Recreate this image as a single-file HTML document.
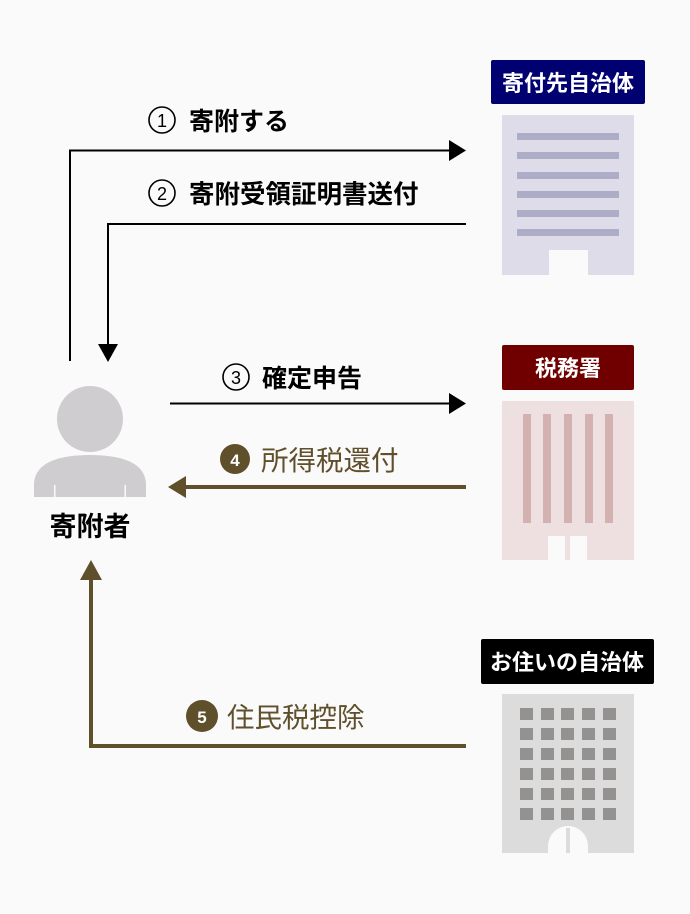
<!DOCTYPE html>
<html><head><meta charset="utf-8"><style>
html,body{margin:0;padding:0;background:#fafafa;}
svg{display:block;}
text{font-family:"Liberation Sans","Noto Sans CJK JP",sans-serif;font-weight:bold;}
</style></head><body>
<svg width="690" height="914" viewBox="0 0 690 914" xmlns="http://www.w3.org/2000/svg">
<rect width="690" height="914" fill="#fafafa"/>
<!-- arrow 1 -->
<polyline points="70,361 70,150.5 450,150.5" fill="none" stroke="#000" stroke-width="2"/>
<polygon points="449,140 466,150.5 449,161" fill="#000"/>
<circle cx="162" cy="120" r="13" fill="none" stroke="#000" stroke-width="1.6"/>
<text x="162" y="127" font-size="18" text-anchor="middle" style="font-weight:normal">1</text>
<text x="189" y="130" font-size="25">寄附する</text>
<!-- arrow 2 -->
<polyline points="466,224 108,224 108,346" fill="none" stroke="#000" stroke-width="2"/>
<polygon points="98,344 118,344 108,362" fill="#000"/>
<circle cx="162" cy="193" r="13" fill="none" stroke="#000" stroke-width="1.6"/>
<text x="162" y="200" font-size="18" text-anchor="middle" style="font-weight:normal">2</text>
<text x="189" y="203" font-size="25.5">寄附受領証明書送付</text>
<!-- arrow 3 -->
<line x1="170" y1="403.5" x2="450" y2="403.5" stroke="#000" stroke-width="2"/>
<polygon points="449,393 466,403.5 449,414" fill="#000"/>
<circle cx="236" cy="377" r="13" fill="none" stroke="#000" stroke-width="1.6"/>
<text x="236" y="384" font-size="18" text-anchor="middle" style="font-weight:normal">3</text>
<text x="262" y="387" font-size="25">確定申告</text>
<!-- arrow 4 -->
<line x1="466" y1="487" x2="185" y2="487" stroke="#5f4f2a" stroke-width="4"/>
<polygon points="186,476 168,487 186,498" fill="#5f4f2a"/>
<circle cx="235" cy="459" r="15" fill="#5f4f2a"/>
<text x="235" y="466" font-size="17" fill="#fff" text-anchor="middle">4</text>
<text x="261" y="470" font-size="27.5" fill="#5f4f2a" style="font-weight:normal">所得税還付</text>
<!-- arrow 5 -->
<polyline points="466,746 91,746 91,578" fill="none" stroke="#5f4f2a" stroke-width="4"/>
<polygon points="80,580 102,580 91,560" fill="#5f4f2a"/>
<circle cx="202" cy="716" r="16" fill="#5f4f2a"/>
<text x="202" y="723" font-size="17" fill="#fff" text-anchor="middle">5</text>
<text x="227" y="727" font-size="27.5" fill="#5f4f2a" style="font-weight:normal">住民税控除</text>
<!-- person -->
<circle cx="90" cy="419" r="33" fill="#cfcdcf"/>
<path d="M34,497 L34,485 C34,462 60,455 90,455 C120,455 146,462 146,485 L146,497 Z" fill="#cfcdcf"/>
<rect x="54" y="485" width="1.5" height="12" fill="#fafafa"/>
<rect x="124.5" y="485" width="1.5" height="12" fill="#fafafa"/>
<text x="90" y="536" font-size="27" text-anchor="middle">寄附者</text>
<!-- building 1 -->
<rect x="491" y="60" width="154" height="44" rx="2" fill="#000070"/>
<text x="568" y="91" font-size="22" fill="#fff" text-anchor="middle">寄付先自治体</text>
<rect x="502" y="115" width="132" height="160" fill="#dddce8"/>
<g fill="#adadc8">
<rect x="517" y="133" width="102" height="7"/><rect x="517" y="152" width="102" height="7"/>
<rect x="517" y="172" width="102" height="7"/><rect x="517" y="191" width="102" height="7"/>
<rect x="517" y="210" width="102" height="7"/><rect x="517" y="229" width="102" height="7"/>
</g>
<rect x="549" y="250" width="39" height="25" fill="#fafafa"/>
<!-- building 2 -->
<rect x="502" y="345" width="132" height="45" rx="2" fill="#700000"/>
<text x="568" y="376" font-size="22" fill="#fff" text-anchor="middle">税務署</text>
<rect x="502" y="401" width="132" height="159" fill="#eee0e0"/>
<g fill="#d4b1b1">
<rect x="523" y="414" width="8" height="109"/><rect x="543" y="414" width="8" height="109"/>
<rect x="564" y="414" width="8" height="109"/><rect x="585" y="414" width="8" height="109"/>
<rect x="605" y="414" width="8" height="109"/>
</g>
<rect x="548" y="536" width="17" height="24" fill="#fafafa"/>
<rect x="570" y="536" width="17" height="24" fill="#fafafa"/>
<!-- building 3 -->
<rect x="481" y="639" width="173" height="45" rx="2" fill="#000"/>
<text x="567" y="670" font-size="22" fill="#fff" text-anchor="middle">お住いの自治体</text>
<rect x="502" y="694" width="132" height="159" fill="#dcdcdc"/>
<g fill="#939291">
<rect x="520" y="708" width="13" height="12"/><rect x="541" y="708" width="13" height="12"/><rect x="561" y="708" width="13" height="12"/><rect x="582" y="708" width="13" height="12"/><rect x="603" y="708" width="13" height="12"/>
<rect x="520" y="728" width="13" height="12"/><rect x="541" y="728" width="13" height="12"/><rect x="561" y="728" width="13" height="12"/><rect x="582" y="728" width="13" height="12"/><rect x="603" y="728" width="13" height="12"/>
<rect x="520" y="748" width="13" height="12"/><rect x="541" y="748" width="13" height="12"/><rect x="561" y="748" width="13" height="12"/><rect x="582" y="748" width="13" height="12"/><rect x="603" y="748" width="13" height="12"/>
<rect x="520" y="768" width="13" height="12"/><rect x="541" y="768" width="13" height="12"/><rect x="561" y="768" width="13" height="12"/><rect x="582" y="768" width="13" height="12"/><rect x="603" y="768" width="13" height="12"/>
<rect x="520" y="788" width="13" height="12"/><rect x="541" y="788" width="13" height="12"/><rect x="561" y="788" width="13" height="12"/><rect x="582" y="788" width="13" height="12"/><rect x="603" y="788" width="13" height="12"/>
<rect x="520" y="808" width="13" height="12"/><rect x="541" y="808" width="13" height="12"/><rect x="561" y="808" width="13" height="12"/><rect x="582" y="808" width="13" height="12"/><rect x="603" y="808" width="13" height="12"/>
</g>
<path d="M548,853 L548,846 A20,20 0 0 1 588,846 L588,853 Z" fill="#fafafa"/>
<rect x="566" y="828" width="4" height="25" fill="#dcdcdc"/>
</svg>
</body></html>
